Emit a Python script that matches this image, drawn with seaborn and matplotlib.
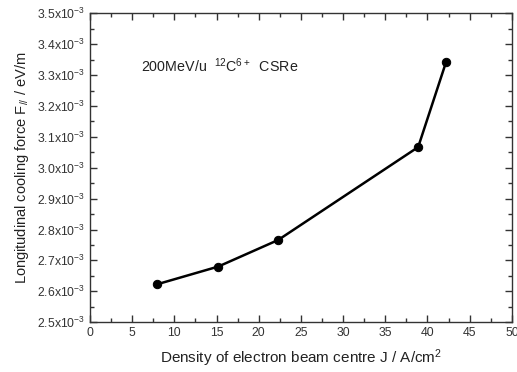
import matplotlib
matplotlib.use("Agg")
import matplotlib.pyplot as plt
import seaborn as sns
import pandas as pd
from matplotlib.ticker import FuncFormatter, MultipleLocator

density = [8.0, 15.2, 22.3, 38.9, 42.2]
force = [2.623e-3, 2.680e-3, 2.766e-3, 3.067e-3, 3.342e-3]

sns.set_theme(style="ticks")
plt.rcParams['font.family'] = ['Liberation Sans', 'DejaVu Sans']
plt.rcParams['mathtext.fontset'] = 'custom'
plt.rcParams['mathtext.rm'] = 'Liberation Sans'
plt.rcParams['mathtext.it'] = 'Liberation Sans'
plt.rcParams['mathtext.default'] = 'regular'

df = pd.DataFrame({"J": density, "F": force})

fig = plt.figure(figsize=(5.17, 3.72), dpi=100)
ax = fig.add_axes([0.174, 0.134, 0.816, 0.830])
sns.lineplot(data=df, x="J", y="F", ax=ax, color="black", linewidth=1.8,
             marker="o", markersize=6, markeredgecolor="black", markerfacecolor="black")

ax.set_xlim(0, 50)
ax.set_ylim(2.5e-3, 3.5e-3)
ax.xaxis.set_major_locator(MultipleLocator(5))
ax.xaxis.set_minor_locator(MultipleLocator(2.5))
ax.yaxis.set_major_locator(MultipleLocator(0.1e-3))
ax.yaxis.set_minor_locator(MultipleLocator(0.05e-3))
ax.yaxis.set_major_formatter(FuncFormatter(lambda v, p: f"{v*1e3:.1f}x10$^{{-3}}$"))
ax.tick_params(which='both', direction='in', top=True, right=True, color='#333333', labelsize=8.8, labelcolor='#333333')
ax.tick_params(which='major', length=5, width=1)
ax.tick_params(which='minor', length=3, width=1)
for s in ax.spines.values():
    s.set_color('#333333')
    s.set_linewidth(1)

ax.set_xlabel("Density of electron beam centre J / A/cm$^2$", fontsize=11, color='#222222', labelpad=6)
ax.set_ylabel("Longitudinal cooling force F$_{//}$ / eV/m", fontsize=10.5, color='#222222', labelpad=4)
ax.text(6.1, 3.33e-3, "200MeV/u  $^{12}$C$^{6+}$  CSRe", fontsize=10.3, color='#222222', va='center', ha='left')

fig.savefig("out.png", dpi=100)
